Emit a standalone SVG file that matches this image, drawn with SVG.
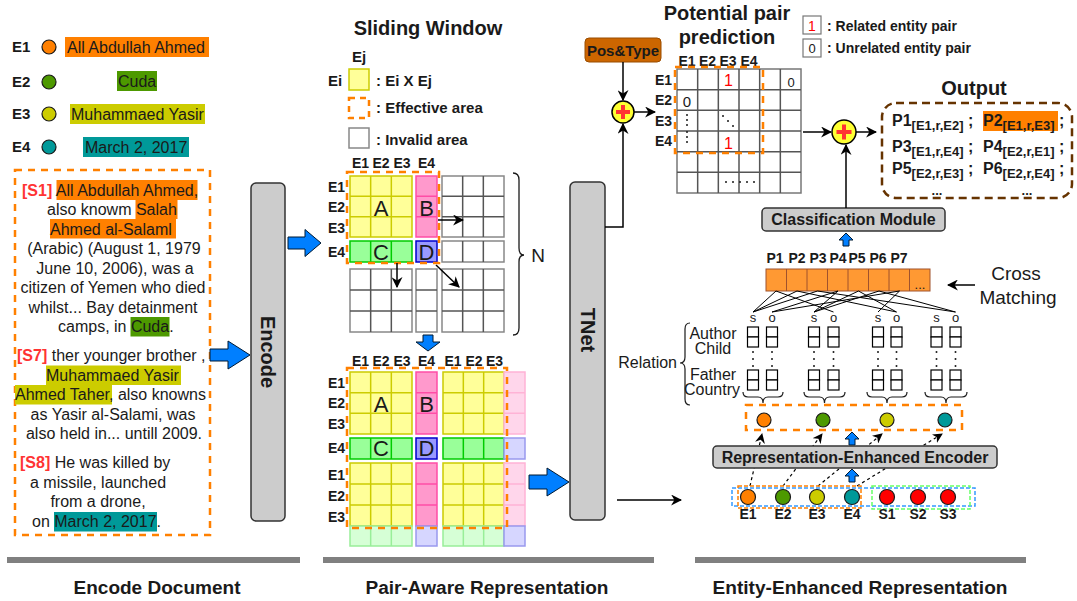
<svg xmlns="http://www.w3.org/2000/svg" width="1077" height="601" viewBox="0 0 1077 601">
<defs>
<style>
text{font-family:"Liberation Sans",Arial,sans-serif;fill:#1a1a1a}
.b{font-weight:bold}
.doc{font-size:16px}
.s{font-weight:bold;fill:#FF3333}
.lab{font-size:14px;font-weight:bold}
.lab15{font-size:15px;font-weight:bold}
.title{font-size:20px;font-weight:bold}
.big{font-size:22px}
.yc{fill:#FFFF99;stroke:#CCCC00;stroke-width:1.5}
.pk{fill:#FF99CC;stroke:#FF4DA6;stroke-width:1.5}
.gn{fill:#99FF99;stroke:#00CC00;stroke-width:1.5}
.bl{fill:#9999FF;stroke:#0000CC;stroke-width:1.5}
.lpk{fill:#FFD6EB;stroke:#FFB3D6;stroke-width:1.5}
.lgn{fill:#D6FFD6;stroke:#99EE99;stroke-width:1.5}
.lbl{fill:#D6D6FF;stroke:#9999EE;stroke-width:1.5}
.gr{fill:#fff;stroke:#888;stroke-width:1.5}
.gl{fill:none;stroke:#555;stroke-width:1.5}
.odash{fill:none;stroke:#FF8000;stroke-width:2.5;stroke-dasharray:7 6}
.barrow{fill:#007FFF;stroke:#001A33;stroke-width:1}
.ln{fill:none;stroke:#000;stroke-width:1.5}
.dl{fill:none;stroke:#000;stroke-width:1.2;stroke-dasharray:3 3}
.box{fill:#CCCCCC;stroke:#333;stroke-width:1.5}
.cm{fill:none;stroke:#000;stroke-width:1}
.sq{fill:#fff;stroke:#000;stroke-width:1.2}
.ob{font-size:16px;font-weight:bold}
.sub{font-size:13px}
.sec{font-size:18px;font-weight:bold}
.bar{fill:#808080}
</style>
<marker id="ah" viewBox="0 0 10 10" refX="9" refY="5" markerWidth="11" markerHeight="11" markerUnits="userSpaceOnUse" orient="auto">
<path d="M0,0 L10,5 L0,10 L3,5 z" fill="#000"/>
</marker>
<marker id="ahs" viewBox="0 0 10 10" refX="9" refY="5" markerWidth="10" markerHeight="10" markerUnits="userSpaceOnUse" orient="auto">
<path d="M0,0 L10,5 L0,10 L3,5 z" fill="#000"/>
</marker>
</defs>
<rect width="1077" height="601" fill="#fff"/>

<!-- Entity legend -->
<g id="entities">
<text x="12" y="52" class="lab15">E1</text>
<circle cx="49" cy="47" r="7" fill="#FF8000" stroke="#1a1a1a" stroke-width="1.2"/>
<rect x="65" y="37" width="144" height="20" fill="#FF8000"/>
<text x="67" y="52.5" class="doc">All Abdullah Ahmed</text>
<text x="12" y="87" class="lab15">E2</text>
<circle cx="49" cy="82" r="7" fill="#4D9900" stroke="#1a1a1a" stroke-width="1.2"/>
<rect x="117" y="71" width="40" height="20" fill="#4D9900"/>
<text x="118" y="86.5" class="doc">Cuda</text>
<text x="12" y="119" class="lab15">E3</text>
<circle cx="49" cy="114" r="7" fill="#CCCC00" stroke="#1a1a1a" stroke-width="1.2"/>
<rect x="70" y="104" width="135" height="20" fill="#CCCC00"/>
<text x="71" y="119.5" class="doc">Muhammaed Yasir</text>
<text x="12" y="152" class="lab15">E4</text>
<circle cx="49" cy="147" r="7" fill="#009999" stroke="#1a1a1a" stroke-width="1.2"/>
<rect x="83" y="137" width="106" height="20" fill="#009999"/>
<text x="85" y="152.5" class="doc">March 2, 2017</text>
</g>

<!-- Document -->
<g id="document">
<rect x="15" y="170" width="195" height="365" class="odash"/>
<rect x="56.5" y="180" width="141" height="20" fill="#FF8000"/>
<rect x="135.5" y="199.5" width="42" height="19.5" fill="#FF8000"/>
<rect x="50" y="219" width="126" height="19.5" fill="#FF8000"/>
<rect x="130.5" y="317" width="39" height="19.5" fill="#4D9900"/>
<rect x="46" y="365.5" width="135" height="19.5" fill="#CCCC00"/>
<rect x="15" y="385" width="97" height="19.5" fill="#CCCC00"/>
<rect x="54" y="512" width="103" height="19.5" fill="#009999"/>
<text x="22" y="195.5" class="doc"><tspan class="s">[S1]</tspan> All Abdullah Ahmed,</text>
<text x="47" y="215" class="doc">also knowm Salah</text>
<text x="50" y="234.5" class="doc">Ahmed al-Salaml</text>
<text x="114" y="254" class="doc" text-anchor="middle">(Arabic) (August 1, 1979</text>
<text x="115" y="273.5" class="doc" text-anchor="middle">June 10, 2006), was a</text>
<text x="113" y="293" class="doc" text-anchor="middle">citizen of Yemen who died</text>
<text x="113" y="312.5" class="doc" text-anchor="middle">whilst... Bay detainment</text>
<text x="58" y="332" class="doc">camps, in Cuda.</text>
<text x="17" y="361" class="doc"><tspan class="s">[S7]</tspan> ther younger brother ,</text>
<text x="46" y="380.5" class="doc">Muhammaed Yasir</text>
<text x="15" y="400" class="doc">Ahmed Taher, also knowns</text>
<text x="113" y="419.5" class="doc" text-anchor="middle">as Yasir al-Salami, was</text>
<text x="114" y="439" class="doc" text-anchor="middle">also held in... untill 2009.</text>
<text x="20" y="468" class="doc"><tspan class="s">[S8]</tspan> He was killed by</text>
<text x="98" y="487.5" class="doc" text-anchor="middle">a missile, launched</text>
<text x="98" y="507" class="doc" text-anchor="middle">from a drone,</text>
<text x="32" y="527" class="doc">on March 2, 2017.</text>
</g>

<!-- Encode -->
<g id="encode">
<rect x="251" y="183" width="34" height="338" rx="5" class="box"/>
<text transform="translate(268,352) rotate(90)" text-anchor="middle" dy="7" class="b" font-size="20">Encode</text>
</g>

<!-- Sliding window legend -->
<g id="sliding-legend">
<text x="428" y="35" class="title" text-anchor="middle">Sliding Window</text>
<text x="359" y="62" class="lab15" text-anchor="middle">Ej</text>
<text x="335" y="86" class="lab15" text-anchor="middle">Ei</text>
<rect x="349" y="69" width="20" height="21" class="yc"/>
<text x="376" y="86" class="lab15" font-size="16">: Ei X Ej</text>
<rect x="349" y="98" width="20" height="20" fill="none" stroke="#FF8000" stroke-width="2.5" stroke-dasharray="6 5"/>
<text x="376" y="113" class="lab15" font-size="16">: Effective area</text>
<rect x="349" y="128" width="20" height="20" class="gr"/>
<text x="376" y="145" class="lab15" font-size="16">: Invalid area</text>
</g>

<!-- Top grid -->
<g id="grid-top">
<text x="360.5" y="168" class="lab" text-anchor="middle">E1</text>
<text x="381" y="168" class="lab" text-anchor="middle">E2</text>
<text x="402" y="168" class="lab" text-anchor="middle">E3</text>
<text x="426.5" y="168" class="lab" text-anchor="middle">E4</text>
<text x="345" y="192" class="lab" text-anchor="end">E1</text>
<text x="345" y="212" class="lab" text-anchor="end">E2</text>
<text x="345" y="233" class="lab" text-anchor="end">E3</text>
<text x="345" y="257" class="lab" text-anchor="end">E4</text>
<rect x="350" y="176" width="62" height="61" class="yc"/>
<path d="M370.67,176V237M391.33,176V237M350,196.33H412M350,216.67H412" class="yc" fill="none"/>
<rect x="416" y="176" width="21" height="61" class="pk"/>
<path d="M416,196.33H437M416,216.67H437" class="pk"/>
<rect x="442" y="176" width="62" height="61" class="gr"/>
<path d="M462.67,176V237M483.33,176V237M442,196.33H504M442,216.67H504" class="gl"/>
<rect x="350" y="241" width="62" height="21" class="gn"/>
<path d="M370.67,241V262M391.33,241V262" class="gn"/>
<rect x="416" y="241" width="21" height="21" class="bl"/>
<rect x="442" y="241" width="62" height="21" class="gr"/>
<path d="M462.67,241V262M483.33,241V262" class="gl"/>
<rect x="350" y="269" width="62" height="63" class="gr"/>
<path d="M370.67,269V332M391.33,269V332M350,290H412M350,311H412" class="gl"/>
<rect x="416" y="269" width="21" height="63" class="gr"/>
<path d="M416,290H437M416,311H437" class="gl"/>
<rect x="442" y="269" width="62" height="63" class="gr"/>
<path d="M462.67,269V332M483.33,269V332M442,290H504M442,311H504" class="gl"/>
<rect x="347" y="172" width="92" height="91" class="odash"/>
<text x="381" y="216" class="big" text-anchor="middle">A</text>
<text x="426.5" y="216" class="big" text-anchor="middle">B</text>
<text x="381" y="260" class="big" text-anchor="middle">C</text>
<text x="426.5" y="260" class="big" text-anchor="middle">D</text>
<path d="M513,173q6,0 6,7V248q0,7 5,7q-5,0 -5,7V328q0,7 -6,7" fill="none" stroke="#1a1a1a" stroke-width="1.3"/>
<text x="538" y="262" font-size="19" text-anchor="middle">N</text>
</g>

<!-- Bottom grid -->
<g id="grid-bottom">
<text x="360.5" y="366" class="lab" text-anchor="middle">E1</text>
<text x="381" y="366" class="lab" text-anchor="middle">E2</text>
<text x="402" y="366" class="lab" text-anchor="middle">E3</text>
<text x="426.5" y="366" class="lab" text-anchor="middle">E4</text>
<text x="453" y="366" class="lab" text-anchor="middle">E1</text>
<text x="474" y="366" class="lab" text-anchor="middle">E2</text>
<text x="494.5" y="366" class="lab" text-anchor="middle">E3</text>
<text x="345" y="388" class="lab" text-anchor="end">E1</text>
<text x="345" y="408" class="lab" text-anchor="end">E2</text>
<text x="345" y="429" class="lab" text-anchor="end">E3</text>
<text x="345" y="453" class="lab" text-anchor="end">E4</text>
<text x="345" y="480" class="lab" text-anchor="end">E1</text>
<text x="345" y="501" class="lab" text-anchor="end">E2</text>
<text x="345" y="522" class="lab" text-anchor="end">E3</text>
<rect x="350" y="372" width="62" height="62" class="yc"/>
<path d="M370.67,372V434M391.33,372V434M350,392.67H412M350,413.33H412" class="yc" fill="none"/>
<rect x="416" y="372" width="21" height="62" class="pk"/>
<path d="M416,392.67H437M416,413.33H437" class="pk"/>
<rect x="443" y="372" width="61" height="62" class="yc"/>
<path d="M463.33,372V434M483.67,372V434M443,392.67H504M443,413.33H504" class="yc" fill="none"/>
<rect x="504" y="372" width="21" height="62" class="lpk"/>
<path d="M504,392.67H525M504,413.33H525" class="lpk"/>
<rect x="350" y="438" width="62" height="21" class="gn"/>
<path d="M370.67,438V459M391.33,438V459" class="gn"/>
<rect x="416" y="438" width="21" height="21" class="bl"/>
<rect x="443" y="438" width="61" height="21" class="gn"/>
<path d="M463.33,438V459M483.67,438V459" class="gn"/>
<rect x="504" y="438" width="21" height="21" class="lbl"/>
<rect x="350" y="463" width="62" height="63" class="yc"/>
<path d="M370.67,463V526M391.33,463V526M350,484H412M350,505H412" class="yc" fill="none"/>
<rect x="416" y="463" width="21" height="63" class="pk"/>
<path d="M416,484H437M416,505H437" class="pk"/>
<rect x="443" y="463" width="61" height="63" class="yc"/>
<path d="M463.33,463V526M483.67,463V526M443,484H504M443,505H504" class="yc" fill="none"/>
<rect x="504" y="463" width="21" height="63" class="lpk"/>
<path d="M504,484H525M504,505H525" class="lpk"/>
<rect x="350" y="526" width="62" height="20" class="lgn"/>
<path d="M370.67,526V546M391.33,526V546" class="lgn"/>
<rect x="416" y="526" width="21" height="20" class="lbl"/>
<rect x="443" y="526" width="61" height="20" class="lgn"/>
<path d="M463.33,526V546M483.67,526V546" class="lgn"/>
<rect x="504" y="526" width="21" height="20" class="lbl"/>
<rect x="347" y="368" width="160" height="160" class="odash"/>
<text x="381" y="412" class="big" text-anchor="middle">A</text>
<text x="426.5" y="412" class="big" text-anchor="middle">B</text>
<text x="381" y="456" class="big" text-anchor="middle">C</text>
<text x="426.5" y="456" class="big" text-anchor="middle">D</text>
</g>

<!-- TNet -->
<g id="tnet">
<rect x="570" y="182" width="35" height="338" rx="5" class="box"/>
<text transform="translate(587.5,330) rotate(90)" text-anchor="middle" dy="7" class="b" font-size="20">TNet</text>
</g>

<!-- Pos&Type and plus -->
<g id="pos-type">
<rect x="585" y="38" width="76" height="24" rx="4" fill="#CC6600" stroke="#994C00" stroke-width="1"/>
<text x="623" y="55.5" font-size="15" class="b" text-anchor="middle">Pos&amp;Type</text>
</g>
<g id="plus1">
<circle cx="623" cy="112" r="11" fill="#FFFF33" stroke="#000" stroke-width="1.5"/>
<path d="M616,112H630M623,105V119" stroke="#FF3333" stroke-width="4"/>
</g>

<!-- Potential pair prediction -->
<g id="pair-pred">
<text x="727" y="20" class="title" text-anchor="middle">Potential pair</text>
<text x="727" y="44" class="title" text-anchor="middle">prediction</text>
<rect x="803" y="16" width="18" height="18" fill="#fff" stroke="#777" stroke-width="1.2"/>
<text x="812" y="30.5" font-size="14" style="fill:#FF0000" text-anchor="middle">1</text>
<text x="827" y="31" class="lab">: Related entity pair</text>
<rect x="803" y="39" width="18" height="18" fill="#fff" stroke="#777" stroke-width="1.2"/>
<text x="812" y="53" font-size="13" text-anchor="middle">0</text>
<text x="827" y="53" class="lab">: Unrelated entity pair</text>
<text x="687" y="66" class="lab" text-anchor="middle">E1</text>
<text x="707.5" y="66" class="lab" text-anchor="middle">E2</text>
<text x="728" y="66" class="lab" text-anchor="middle">E3</text>
<text x="749" y="66" class="lab" text-anchor="middle">E4</text>
<text x="672" y="85" class="lab" text-anchor="end">E1</text>
<text x="672" y="105" class="lab" text-anchor="end">E2</text>
<text x="672" y="126" class="lab" text-anchor="end">E3</text>
<text x="672" y="146" class="lab" text-anchor="end">E4</text>
<rect x="677" y="69" width="124" height="124" fill="#fff" stroke="#777" stroke-width="1.5"/>
<path d="M697.67,69V193M718.33,69V193M739,69V193M759.67,69V193M780.33,69V193M677,89.67H801M677,110.33H801M677,131H801M677,151.67H801M677,172.33H801" class="gl"/>
<text x="728.5" y="86" font-size="16" style="fill:#FF0000" text-anchor="middle">1</text>
<text x="791" y="87" font-size="13" text-anchor="middle">0</text>
<text x="687" y="107" font-size="15" text-anchor="middle">0</text>
<g fill="#1a1a1a">
<circle cx="687" cy="115" r="1"/><circle cx="687" cy="120" r="1"/><circle cx="687" cy="125" r="1"/><circle cx="687" cy="132" r="1"/><circle cx="687" cy="137" r="1"/><circle cx="687" cy="142" r="1"/>
<circle cx="723" cy="116" r="1"/><circle cx="728" cy="121" r="1"/><circle cx="733" cy="126" r="1"/>
<circle cx="726" cy="182" r="1"/><circle cx="733" cy="182" r="1"/><circle cx="740" cy="182" r="1"/><circle cx="747" cy="182" r="1"/><circle cx="754" cy="182" r="1"/>
</g>
<text x="728.5" y="149" font-size="16" style="fill:#FF0000" text-anchor="middle">1</text>
<rect x="675" y="67" width="88" height="86" class="odash"/>
</g>

<!-- Output plus -->
<g id="plus2">
<circle cx="844" cy="132" r="12" fill="#FFFF33" stroke="#000" stroke-width="1.5"/>
<path d="M836.5,132H851.5M844,124.5V139.5" stroke="#FF3333" stroke-width="4"/>
</g>

<!-- Output -->
<g id="output">
<text x="974" y="95" class="title" text-anchor="middle">Output</text>
<rect x="882" y="103" width="190" height="95" rx="14" fill="none" stroke="#663300" stroke-width="2.5" stroke-dasharray="8 5"/>
<rect x="983" y="111" width="75" height="20" fill="#FF8000"/>
<text x="892" y="126" class="ob">P1<tspan class="sub" dy="4">[E1,r,E2]</tspan><tspan dy="-4"> ;</tspan></text>
<text x="983" y="126" class="ob">P2<tspan class="sub" dy="4">[E1,r,E3]</tspan><tspan dy="-4"> ;</tspan></text>
<text x="892" y="152" class="ob">P3<tspan class="sub" dy="4">[E1,r,E4]</tspan><tspan dy="-4"> ;</tspan></text>
<text x="983" y="152" class="ob">P4<tspan class="sub" dy="4">[E2,r,E1]</tspan><tspan dy="-4"> ;</tspan></text>
<text x="892" y="174" class="ob">P5<tspan class="sub" dy="4">[E2,r,E3]</tspan><tspan dy="-4"> ;</tspan></text>
<text x="983" y="174" class="ob">P6<tspan class="sub" dy="4">[E2,r,E4]</tspan><tspan dy="-4"> ;</tspan></text>
<text x="937" y="195" font-size="13" class="b" text-anchor="middle">...</text>
<text x="1027" y="195" font-size="13" class="b" text-anchor="middle">...</text>
</g>

<!-- Classification Module -->
<g id="classification">
<rect x="762" y="208" width="183" height="23" rx="4" class="box"/>
<text x="853.5" y="225" font-size="16" class="b" text-anchor="middle">Classification Module</text>
</g>

<!-- P cells -->
<g id="pair-cells">
<text x="775" y="263" class="lab" text-anchor="middle">P1</text>
<text x="797" y="263" class="lab" text-anchor="middle">P2</text>
<text x="818" y="263" class="lab" text-anchor="middle">P3</text>
<text x="838" y="263" class="lab" text-anchor="middle">P4</text>
<text x="857" y="263" class="lab" text-anchor="middle">P5</text>
<text x="878" y="263" class="lab" text-anchor="middle">P6</text>
<text x="899" y="263" class="lab" text-anchor="middle">P7</text>
<rect x="766" y="269" width="164" height="22" fill="#FF9933" stroke="#A0522D" stroke-width="1"/>
<path d="M786.5,269V291M807,269V291M827.5,269V291M848,269V291M868.5,269V291M889,269V291M909.5,269V291" stroke="#A0522D" stroke-width="1"/>
<text x="920" y="289" font-size="13" text-anchor="middle">...</text>
<text x="1016" y="280" font-size="19" text-anchor="middle">Cross</text>
<text x="1018" y="304" font-size="19" text-anchor="middle">Matching</text>
</g>

<!-- Relation slots -->
<g id="relations">
<text x="713" y="339" font-size="16" text-anchor="middle">Author</text>
<text x="713" y="354" font-size="16" text-anchor="middle">Child</text>
<text x="677" y="368" font-size="16" text-anchor="end">Relation</text>
<text x="713" y="380" font-size="16" text-anchor="middle">Father</text>
<text x="712" y="395" font-size="16" text-anchor="middle">Country</text>
<path d="M690,323q-5,0 -5,6V357q0,6 -5,6q5,0 5,6V399q0,6 5,6" fill="none" stroke="#1a1a1a" stroke-width="1.2"/>
<g font-size="13" text-anchor="middle">
<text x="753" y="322">s</text><text x="772" y="322">o</text>
<text x="814" y="322">s</text><text x="833.5" y="322">o</text>
<text x="878" y="322">s</text><text x="896.5" y="322">o</text>
<text x="936.5" y="322">s</text><text x="955.5" y="322">o</text>
</g>
<g class="sq">
<rect x="747.5" y="327" width="11" height="10" class="sq"/><rect x="747.5" y="337" width="11" height="10" class="sq"/>
<rect x="766.5" y="327" width="11" height="10" class="sq"/><rect x="766.5" y="337" width="11" height="10" class="sq"/>
<rect x="808.5" y="327" width="11" height="10" class="sq"/><rect x="808.5" y="337" width="11" height="10" class="sq"/>
<rect x="828" y="327" width="11" height="10" class="sq"/><rect x="828" y="337" width="11" height="10" class="sq"/>
<rect x="872.5" y="327" width="11" height="10" class="sq"/><rect x="872.5" y="337" width="11" height="10" class="sq"/>
<rect x="891" y="327" width="11" height="10" class="sq"/><rect x="891" y="337" width="11" height="10" class="sq"/>
<rect x="931" y="327" width="11" height="10" class="sq"/><rect x="931" y="337" width="11" height="10" class="sq"/>
<rect x="950" y="327" width="11" height="10" class="sq"/><rect x="950" y="337" width="11" height="10" class="sq"/>
<rect x="747.5" y="370" width="11" height="10" class="sq"/><rect x="747.5" y="380" width="11" height="10" class="sq"/>
<rect x="766.5" y="370" width="11" height="10" class="sq"/><rect x="766.5" y="380" width="11" height="10" class="sq"/>
<rect x="808.5" y="370" width="11" height="10" class="sq"/><rect x="808.5" y="380" width="11" height="10" class="sq"/>
<rect x="828" y="370" width="11" height="10" class="sq"/><rect x="828" y="380" width="11" height="10" class="sq"/>
<rect x="872.5" y="370" width="11" height="10" class="sq"/><rect x="872.5" y="380" width="11" height="10" class="sq"/>
<rect x="891" y="370" width="11" height="10" class="sq"/><rect x="891" y="380" width="11" height="10" class="sq"/>
<rect x="931" y="370" width="11" height="10" class="sq"/><rect x="931" y="380" width="11" height="10" class="sq"/>
<rect x="950" y="370" width="11" height="10" class="sq"/><rect x="950" y="380" width="11" height="10" class="sq"/>
</g>
<g fill="#1a1a1a">
<circle cx="753" cy="352" r="1"/><circle cx="753" cy="359" r="1"/><circle cx="753" cy="366" r="1"/>
<circle cx="772" cy="352" r="1"/><circle cx="772" cy="359" r="1"/><circle cx="772" cy="366" r="1"/>
<circle cx="814" cy="352" r="1"/><circle cx="814" cy="359" r="1"/><circle cx="814" cy="366" r="1"/>
<circle cx="833.5" cy="352" r="1"/><circle cx="833.5" cy="359" r="1"/><circle cx="833.5" cy="366" r="1"/>
<circle cx="878" cy="352" r="1"/><circle cx="878" cy="359" r="1"/><circle cx="878" cy="366" r="1"/>
<circle cx="896.5" cy="352" r="1"/><circle cx="896.5" cy="359" r="1"/><circle cx="896.5" cy="366" r="1"/>
<circle cx="936.5" cy="352" r="1"/><circle cx="936.5" cy="359" r="1"/><circle cx="936.5" cy="366" r="1"/>
<circle cx="955.5" cy="352" r="1"/><circle cx="955.5" cy="359" r="1"/><circle cx="955.5" cy="366" r="1"/>
</g>
<path d="M743,392q0,5 5,5H758q5,0 5,6q0,-6 5,-6H778q5,0 5,-5M804,392q0,5 5,5H819.5q5,0 5,6q0,-6 5,-6H840q5,0 5,-5M867,392q0,5 5,5H882q5,0 5,6q0,-6 5,-6H902q5,0 5,-5M925,392q0,5 5,5H941q5,0 5,6q0,-6 5,-6H962q5,0 5,-5" fill="none" stroke="#1a1a1a" stroke-width="1.2"/>
</g>

<!-- Entity representations -->
<g id="entity-reps">
<rect x="746" y="405" width="216" height="25" class="odash"/>
<circle cx="764" cy="420" r="7" fill="#FF8000" stroke="#1a1a1a" stroke-width="1.2"/>
<circle cx="823" cy="420" r="7" fill="#4D9900" stroke="#1a1a1a" stroke-width="1.2"/>
<circle cx="887" cy="420" r="7" fill="#CCCC00" stroke="#1a1a1a" stroke-width="1.2"/>
<circle cx="945" cy="420" r="7" fill="#009999" stroke="#1a1a1a" stroke-width="1.2"/>
</g>

<!-- Connectors -->
<g id="connectors">
<polygon points="210,349 228,349 228,341 250,355 228,369 228,361 210,361" class="barrow"/>
<polygon points="288,237 305,237 305,229.5 321,243 305,256.5 305,249 288,249" class="barrow"/>
<polygon points="423,335 433,335 433,342 440,342 428,351 416,342 423,342" class="barrow"/>
<polygon points="529,475 547,475 547,468 569,482 547,496 547,489 529,489" class="barrow"/>
<polygon points="843,246 849,246 849,240 853,240 846,233 839,240 843,240" class="barrow"/>
<polygon points="849,445 855,445 855,439 859,439 852,432 845,439 849,439" class="barrow"/>
<polygon points="849,482 855,482 855,476 859,476 852,469 845,476 849,476" class="barrow"/>
<path d="M438,220H463" class="ln" stroke-width="2" marker-end="url(#ah)"/>
<path d="M397,263V287" class="ln" stroke-width="2" marker-end="url(#ah)"/>
<path d="M436,265L459,287" class="ln" stroke-width="2" marker-end="url(#ah)"/>
<path d="M623,62V100" class="ln" marker-end="url(#ah)"/>
<path d="M605,227H623V124" class="ln" marker-end="url(#ah)"/>
<path d="M634,112H655" class="ln" marker-end="url(#ah)"/>
<path d="M803,132H831" class="ln" marker-end="url(#ah)"/>
<path d="M856,132H876" class="ln" marker-end="url(#ah)"/>
<path d="M846,208V145" class="ln" marker-end="url(#ah)"/>
<path d="M975,285H948" class="ln" marker-end="url(#ah)"/>
<path d="M617,500H681" class="ln" marker-end="url(#ah)"/>
<path d="M776,291L753,312M776,291L833.5,312M797,291L753,312M797,291L896.5,312M817.5,291L753,312M817.5,291L955.5,312M838,291L814,312M838,291L772,312M858.5,291L814,312M858.5,291L896.5,312M879,291L814,312M879,291L955.5,312M899.5,291L878,312M899.5,291L772,312" class="cm"/>
<path d="M750,486L762,434" class="dl" marker-end="url(#ahs)"/>
<path d="M783,486L822,434" class="dl" marker-end="url(#ahs)"/>
<path d="M818,486L882,434" class="dl" marker-end="url(#ahs)"/>
<path d="M857,486L942,434" class="dl" marker-end="url(#ahs)"/>
</g>

<!-- Representation-Enhanced Encoder -->
<g id="rep-encoder">
<rect x="713" y="446" width="284" height="22" rx="4" class="box"/>
<text x="855" y="463" font-size="16" class="b" text-anchor="middle">Representation-Enhanced Encoder</text>
</g>

<!-- Input nodes -->
<g id="inputs">
<rect x="732" y="488" width="243" height="18" fill="none" stroke="#3399FF" stroke-width="1.5" stroke-dasharray="4 2"/>
<rect x="738" y="486" width="123" height="22" fill="none" stroke="#FF8000" stroke-width="1.5" stroke-dasharray="4 2"/>
<rect x="872" y="486" width="98" height="23" fill="none" stroke="#66FF66" stroke-width="1.5" stroke-dasharray="4 2"/>
<circle cx="748" cy="497" r="7.5" fill="#FF8000" stroke="#1a1a1a" stroke-width="1.2"/>
<circle cx="783" cy="497" r="7.5" fill="#4D9900" stroke="#1a1a1a" stroke-width="1.2"/>
<circle cx="817" cy="497" r="7.5" fill="#CCCC00" stroke="#1a1a1a" stroke-width="1.2"/>
<circle cx="852" cy="497" r="7.5" fill="#009999" stroke="#1a1a1a" stroke-width="1.2"/>
<circle cx="887" cy="497" r="7.5" fill="#FF0000" stroke="#1a1a1a" stroke-width="1.2"/>
<circle cx="918" cy="497" r="7.5" fill="#FF0000" stroke="#1a1a1a" stroke-width="1.2"/>
<circle cx="948" cy="497" r="7.5" fill="#FF0000" stroke="#1a1a1a" stroke-width="1.2"/>
<text x="748" y="519" class="lab" text-anchor="middle">E1</text>
<text x="783" y="519" class="lab" text-anchor="middle">E2</text>
<text x="817" y="519" class="lab" text-anchor="middle">E3</text>
<text x="852" y="519" class="lab" text-anchor="middle">E4</text>
<text x="887" y="519" class="lab" text-anchor="middle">S1</text>
<text x="918" y="519" class="lab" text-anchor="middle">S2</text>
<text x="948" y="519" class="lab" text-anchor="middle">S3</text>
</g>

<!-- Section labels -->
<g id="sections">
<rect x="7" y="557" width="293" height="6" class="bar"/>
<rect x="323" y="557" width="331" height="6" class="bar"/>
<rect x="695" y="557" width="331" height="6" class="bar"/>
<text x="157" y="594" class="sec" text-anchor="middle" textLength="167" lengthAdjust="spacingAndGlyphs">Encode Document</text>
<text x="487" y="594" class="sec" text-anchor="middle" textLength="243" lengthAdjust="spacingAndGlyphs">Pair-Aware Representation</text>
<text x="860" y="594" class="sec" text-anchor="middle" textLength="295" lengthAdjust="spacingAndGlyphs">Entity-Enhanced Representation</text>
</g>
</svg>
